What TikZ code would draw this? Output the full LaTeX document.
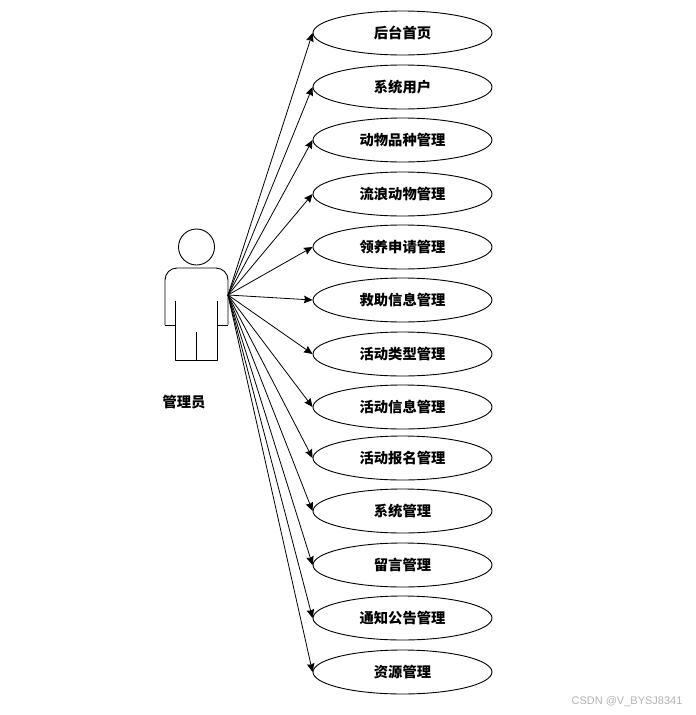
\documentclass[tikz,border=0pt]{standalone}
\usepackage{fontspec}
\newfontfamily\cjk{Noto Sans CJK SC}
\newfontfamily\marksans{Liberation Sans}
\usepackage{xcolor}
\usepackage{tikz}
\usetikzlibrary{positioning, arrows.meta, shapes.geometric}

\begin{document}
\begin{tikzpicture}[
  x=1pt, y=-1pt,
  font=\cjk\bfseries\fontsize{14.3pt}{16pt}\selectfont,
  usecase/.style={ellipse, draw=black, line width=0.9pt, minimum width=179pt,
                  minimum height=44pt, inner sep=0pt, text=black},
  arr/.style={-{Stealth[length=8.5pt, width=7.5pt, inset=1pt]}, line width=0.8pt, draw=black},
  figure/.style={line width=0.9pt, draw=black, line join=round},
  stamp/.style={font=\marksans\mdseries\fontsize{11pt}{13pt}\selectfont, text=black!30}
]
\useasboundingbox (0,0) rectangle (696,715);

% actor
\node[circle, figure, minimum size=36pt, inner sep=0pt] (head) at (196.5,247) {};
\draw[figure, rounded corners=12pt] (165,325) -- (165,268) -- (228,268) -- (228,325);
\draw[figure] (165,325) -- (175.5,325);
\draw[figure] (228,325) -- (217,325);
\draw[figure] (175.5,301) -- (175.5,360) -- (217,360) -- (217,301);
\draw[figure] (196.5,332) -- (196.5,360);
\coordinate (hand) at (228,295);
\node (admin) at (184,402) {管理员};

% use cases
\node[usecase] (home)    at (402.5,33)  {后台首页};
\node[usecase] (user)    at (402.5,87)  {系统用户};
\node[usecase] (breed)   at (402.5,140) {动物品种管理};
\node[usecase] (stray)   at (402.5,194) {流浪动物管理};
\node[usecase] (adopt)   at (402.5,247) {领养申请管理};
\node[usecase] (rescue)  at (402.5,300) {救助信息管理};
\node[usecase] (acttype) at (402.5,354) {活动类型管理};
\node[usecase] (actinfo) at (402.5,407) {活动信息管理};
\node[usecase] (actsign) at (402.5,458) {活动报名管理};
\node[usecase] (system)  at (402.5,511) {系统管理};
\node[usecase] (message) at (402.5,565) {留言管理};
\node[usecase] (notice)  at (402.5,618) {通知公告管理};
\node[usecase] (resource) at (402.5,672) {资源管理};

\draw[arr] (hand) -- (home.west);
\draw[arr] (hand) -- (user.west);
\draw[arr] (hand) -- (breed.west);
\draw[arr] (hand) -- (stray.west);
\draw[arr] (hand) -- (adopt.west);
\draw[arr] (hand) -- (rescue.west);
\draw[arr] (hand) -- (acttype.west);
\draw[arr] (hand) -- (actinfo.west);
\draw[arr] (hand) -- (actsign.west);
\draw[arr] (hand) -- (system.west);
\draw[arr] (hand) -- (message.west);
\draw[arr] (hand) -- (notice.west);
\draw[arr] (hand) -- (resource.west);

\node[stamp] (csdn) at (627,702) {CSDN @V\_BYSJ8341};
\end{tikzpicture}
\end{document}
